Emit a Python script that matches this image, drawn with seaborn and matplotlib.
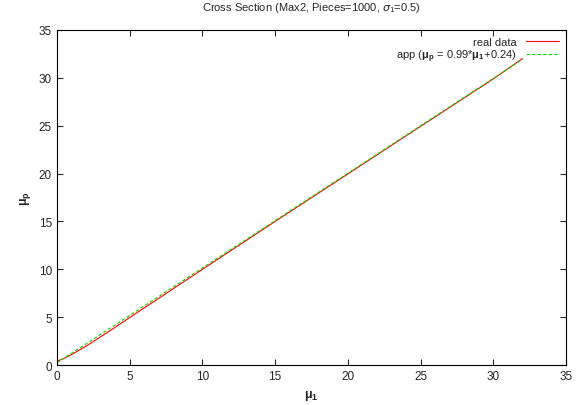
import seaborn as sns
import pandas as pd
import matplotlib.pyplot as plt

# values
real_x = [0, 0.5, 1, 2, 3, 4, 5, 7.5, 10, 15, 20, 25, 30, 32]
real_y = [0.4, 0.72, 1.1, 1.98, 2.95, 3.95, 4.97, 7.48, 10.0, 15.0, 19.96, 24.93, 29.88, 32.0]
app_x = [0, 32]
app_y = [0.24, 31.92]
ticks = [0, 5, 10, 15, 20, 25, 30, 35]

sns.set_style('ticks')
plt.rcParams['font.family'] = ['Liberation Sans', 'DejaVu Sans']
plt.rcParams['mathtext.fontset'] = 'custom'
plt.rcParams['mathtext.rm'] = 'Liberation Sans'
plt.rcParams['mathtext.bf'] = 'Liberation Sans:bold'

df_real = pd.DataFrame({'x': real_x, 'y': real_y})
df_app = pd.DataFrame({'x': app_x, 'y': app_y})

fig, ax = plt.subplots(figsize=(5.8, 4.06), dpi=100)
fig.subplots_adjust(left=0.098, right=0.976, top=0.924, bottom=0.098)

sns.lineplot(data=df_real, x='x', y='y', ax=ax, color='#ff0000', lw=0.8,
             label='real data')
sns.lineplot(data=df_app, x='x', y='y', ax=ax, color='#00dd00', lw=0.8,
             ls=(0, (3, 2)), label=r'app ($\mathbf{\mu_p}$ = 0.99*$\mathbf{\mu_1}$+0.24)')

ax.set_xlim(0, 35)
ax.set_ylim(0, 35)
ax.set_xticks(ticks)
ax.set_yticks(ticks)
ax.tick_params(direction='in', top=True, right=True, labelsize=8.5, length=4, width=0.8)
for s in ax.spines.values():
    s.set_linewidth(0.8)
    s.set_color('black')

ax.set_xlabel(r'$\mathbf{\mu_1}$', fontsize=9)
ax.set_ylabel(r'$\mathbf{\mu_p}$', fontsize=9, rotation=90)
ax.set_title(r'Cross Section (Max2, Pieces=1000, $\sigma_1$=0.5)', fontsize=8, pad=14)

ax.legend(loc='upper right', frameon=False, markerfirst=False, fontsize=8,
          handlelength=3, borderaxespad=0.2, labelspacing=0.1)

fig.savefig('out.png', dpi=100)
